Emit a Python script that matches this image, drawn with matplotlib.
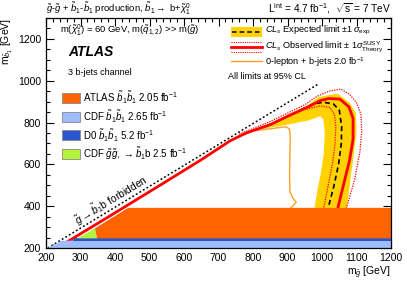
import numpy as np
import matplotlib.pyplot as plt
from matplotlib.patches import Rectangle, Polygon
from matplotlib.lines import Line2D

plt.rcParams['font.family'] = ['Liberation Sans', 'DejaVu Sans']
plt.rcParams['mathtext.fontset'] = 'custom'
plt.rcParams['mathtext.rm'] = 'Liberation Sans'
plt.rcParams['mathtext.it'] = 'Liberation Sans:italic'
plt.rcParams['mathtext.bf'] = 'Liberation Sans:bold'

# observed CLs limit (m_gluino, m_sbottom) [GeV]
obs_x = [232, 400, 550, 650, 733, 780, 850, 907, 960, 995, 1020, 1052, 1078, 1090, 1090, 1080, 1065, 1046]
obs_y = [200, 368, 520, 622, 712, 750, 790, 835, 875, 905, 915, 912, 875, 820, 720, 620, 520, 392]

# observed +/- 1 sigma theory
theo_up_x = [760, 850, 950, 985, 1020, 1055, 1080, 1100, 1113, 1115, 1110, 1095, 1071]
theo_up_y = [745, 805, 885, 925, 950, 960, 935, 895, 840, 760, 660, 530, 392]
theo_dn_x = [900, 950, 995, 1023, 1036, 1040, 1038, 1030, 1018, 1005]
theo_dn_y = [835, 862, 880, 872, 840, 780, 700, 600, 500, 392]

# expected limit and +/- 1 sigma band
exp_x = [940, 975, 1004, 1033, 1050, 1057, 1056, 1048, 1035, 1018]
exp_y = [862, 889, 897, 889, 860, 780, 700, 600, 500, 392]
band_up_x = [760, 850, 907, 960, 990, 1045, 1080, 1098, 1100, 1093, 1084, 1072]
band_up_y = [742, 797, 842, 884, 922, 938, 895, 845, 760, 660, 550, 392]
band_dn_x = [978, 987, 997, 1005, 1008, 1004, 995, 960, 900, 830, 760]
band_dn_y = [392, 480, 560, 650, 750, 815, 830, 810, 790, 770, 742]

# 0-lepton + b-jets 2.0 fb-1
zl_x = [770, 800, 850, 895, 905, 908, 907, 906, 907, 915, 925, 918, 909]
zl_y = [740, 760, 770, 780, 770, 740, 650, 550, 470, 440, 420, 405, 392]

# previous limits
atlas_x = [348, 342, 438, 1200, 1200]
atlas_y = [246, 294, 392, 392, 246]
cdf_x = [205, 245, 1200, 1200]
cdf_y = [200, 235, 235, 200]
d0_x = [275, 1200, 1200, 285]
d0_y = [235, 235, 246, 246]
cdfgg_x = [290, 342, 348]
cdfgg_y = [246, 294, 246]

# kinematic limit
kin_x = [205, 990]
kin_y = [200, 985]

fig = plt.figure(figsize=(4.07, 2.82), dpi=100)
ax = fig.add_axes([46/407, 1-248/282, 345/407, 230/282])
ax.set_xlim(200, 1200)
ax.set_ylim(200, 1300)

c_orange = '#FF6400'
c_lblue = '#9DBDFF'
c_dblue = '#2A55CC'
c_green = '#B4F23C'
c_yellow = '#FFD200'

band = list(zip(band_up_x, band_up_y)) + list(zip(band_dn_x, band_dn_y))
ax.add_patch(Polygon(band, closed=True, fc=c_yellow, ec='none', zorder=2))
ax.plot(exp_x, exp_y, color='black', lw=1.2, ls=(0, (3, 2)), zorder=3)
ax.plot(theo_up_x, theo_up_y, color='red', lw=0.9, ls=(0, (1, 1)), zorder=3)
ax.plot(theo_dn_x, theo_dn_y, color='red', lw=0.9, ls=(0, (1, 1)), zorder=3)
ax.plot(obs_x, obs_y, color='red', lw=2.0, zorder=4)
ax.plot(zl_x, zl_y, color='#FFA020', lw=1.0, zorder=3)
ax.plot(kin_x, kin_y, color='black', lw=1.1, ls=(0, (1.2, 1.5)), zorder=3)

ax.add_patch(Polygon(list(zip(cdf_x, cdf_y)), closed=True, fc=c_lblue, ec='none', zorder=5))
ax.add_patch(Polygon(list(zip(d0_x, d0_y)), closed=True, fc=c_dblue, ec='none', zorder=5))
ax.add_patch(Polygon(list(zip(cdfgg_x, cdfgg_y)), closed=True, fc=c_green, ec='none', zorder=5))
ax.add_patch(Polygon(list(zip(atlas_x, atlas_y)), closed=True, fc=c_orange, ec='none', zorder=5))

# axes style
ax.set_xticks(np.arange(200, 1201, 100))
ax.set_yticks(np.arange(200, 1201, 200))
ax.set_xticks(np.arange(200, 1201, 20), minor=True)
ax.set_yticks(np.arange(200, 1301, 50), minor=True)
ax.tick_params(which='both', direction='in', top=True, right=True, labelsize=7.5, zorder=10)
ax.tick_params(which='major', length=6, width=0.8)
ax.tick_params(which='minor', length=3, width=0.8)
for s in ax.spines.values():
    s.set_linewidth(0.9)
    s.set_zorder(10)
ax.set_xlabel(r'm$_{\tilde{g}}$ [GeV]', fontsize=7.5, loc='right', labelpad=1)
ax.set_ylabel(r'm$_{\tilde{b}_1}$ [GeV]', fontsize=7.5, loc='top', labelpad=2)

# titles above the frame
ax.text(0.0, 1.024, r'$\tilde{g}$-$\tilde{g}$ + $\tilde{b}_1$-$\tilde{b}_1$ production, $\tilde{b}_1\rightarrow$ b+$\tilde{\chi}^0_1$',
        transform=ax.transAxes, fontsize=6.8, ha='left', va='baseline')
ax.text(1.0, 1.024, r'L$^{\rm int}$ = 4.7 fb$^{-1}$,  $\sqrt{\rm s}$ = 7 TeV',
        transform=ax.transAxes, fontsize=7.3, ha='right', va='baseline')

ax.text(0.04, 0.948, r'm($\tilde{\chi}^0_1$) = 60 GeV, m($\tilde{q}_{1,2}$) >> m($\tilde{g}$)',
        transform=ax.transAxes, fontsize=6.8, va='center')
ax.text(0.064, 0.852, 'ATLAS', transform=ax.transAxes, fontsize=10, fontweight='bold',
        fontstyle='italic', va='center')
ax.text(0.064, 0.765, '3 b-jets channel', transform=ax.transAxes, fontsize=6.5, va='center')

# left legend
leg_cols = [c_orange, c_lblue, c_dblue, c_green]
leg_labels = [r'ATLAS $\tilde{b}_1\tilde{b}_1$ 2.05 fb$^{-1}$',
              r'CDF $\tilde{b}_1\tilde{b}_1$ 2.65 fb$^{-1}$',
              r'D0 $\tilde{b}_1\tilde{b}_1$ 5.2 fb$^{-1}$',
              r'CDF $\tilde{g}\tilde{g}$, $\rightarrow\tilde{b}_1$b 2.5 fb$^{-1}$']
for i, (c, lab) in enumerate(zip(leg_cols, leg_labels)):
    yc = 0.652 - i * 0.081
    ax.add_patch(Rectangle((0.046, yc - 0.021), 0.053, 0.042, transform=ax.transAxes,
                           fc=c, ec='#888888', lw=0.6, zorder=6))
    ax.text(0.107, yc, lab, transform=ax.transAxes, fontsize=7, va='center', zorder=6)

# right legend
ax.add_patch(Rectangle((0.536, 0.918), 0.09, 0.042, transform=ax.transAxes,
                       fc=c_yellow, ec='none', zorder=6))
ax.add_line(Line2D([0.54, 0.622], [0.939, 0.939], transform=ax.transAxes, color='black',
                   lw=1.1, ls=(0, (3, 2)), zorder=7))
ax.text(0.635, 0.946, r'$CL_s$ Expected limit $\pm 1\,\sigma_{\rm exp}$', transform=ax.transAxes,
        fontsize=6.6, va='center')
ax.add_line(Line2D([0.536, 0.626], [0.874, 0.874], transform=ax.transAxes, color='red', lw=2.0, zorder=7))
for yy in (0.897, 0.851):
    ax.add_line(Line2D([0.536, 0.626], [yy, yy], transform=ax.transAxes, color='red',
                       lw=0.8, ls=(0, (1, 1)), zorder=7))
ax.text(0.635, 0.874, r'$CL_s$ Observed limit $\pm$ 1$\sigma^{\rm SUSY}_{\rm Theory}$', transform=ax.transAxes,
        fontsize=6.6, va='center')
ax.add_line(Line2D([0.536, 0.626], [0.815, 0.815], transform=ax.transAxes, color='#FFA020', lw=1.0, zorder=7))
ax.text(0.635, 0.808, r'0-lepton + b-jets 2.0 fb$^{-1}$', transform=ax.transAxes, fontsize=6.6, va='center')
ax.text(0.528, 0.745, 'All limits at 95% CL', transform=ax.transAxes, fontsize=6.5, va='center')

ax.text(388, 428, r'$\tilde{g}\rightarrow\tilde{b}_1$b forbidden', fontsize=7.5, rotation=45,
        transform_rotates_text=True, rotation_mode='anchor', ha='center', va='center', zorder=6)

fig.savefig('out.png', dpi=100)
